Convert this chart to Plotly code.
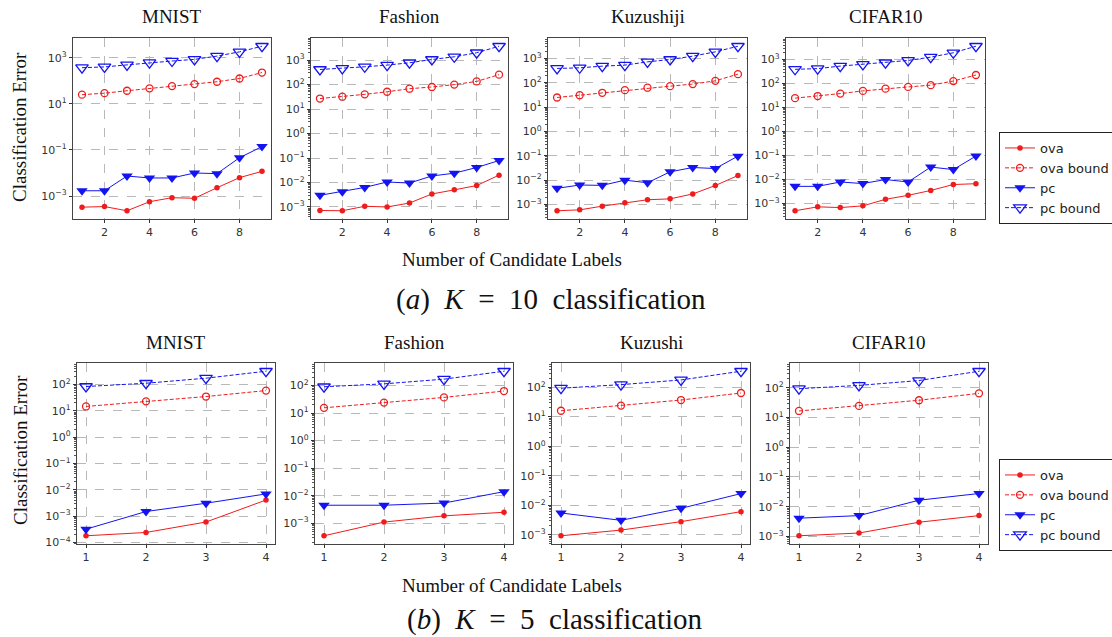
import numpy as np
import plotly.graph_objects as go

W, H = 1112, 637

# ---------------- data ----------------
k10_x = [1, 2, 3, 4, 5, 6, 7, 8, 9]
k5_x = [1, 2, 3, 4]

titles_k10 = ["MNIST", "Fashion", "Kuzushiji", "CIFAR10"]
titles_k5 = ["MNIST", "Fashion", "Kuzushi", "CIFAR10"]
series_names = ["ova", "ova bound", "pc", "pc bound"]

# K = 10
mnist10_ova = [3.3e-4, 3.5e-4, 2.3e-4, 5.7e-4, 8.5e-4, 8.0e-4, 2.3e-3, 6.3e-3, 1.18e-2]
mnist10_ova_bound = [25, 29, 37, 47, 59, 72, 91, 126, 228]
mnist10_pc = [1.7e-3, 1.7e-3, 7.4e-3, 6.1e-3, 6.1e-3, 1.0e-2, 9.4e-3, 4.6e-2, 0.14]
mnist10_pc_bound = [370, 400, 490, 610, 720, 850, 1180, 1800, 3160]

fashion10_ova = [7.2e-4, 7.0e-4, 1.07e-3, 1.0e-3, 1.45e-3, 3.4e-3, 5.0e-3, 7.5e-3, 2.0e-2]
fashion10_ova_bound = [27, 32, 40, 51, 68, 80, 100, 135, 255]
fashion10_pc = [3.0e-3, 4.2e-3, 6.3e-3, 1.05e-2, 9.5e-3, 1.85e-2, 2.4e-2, 4.1e-2, 7.9e-2]
fashion10_pc_bound = [415, 460, 535, 625, 780, 1060, 1370, 2000, 3700]

kuzushiji10_ova = [5.5e-4, 6.0e-4, 8.5e-4, 1.17e-3, 1.56e-3, 1.7e-3, 2.7e-3, 6.0e-3, 1.55e-2]
kuzushiji10_ova_bound = [25, 31, 39, 50, 63, 73, 89, 121, 228]
kuzushiji10_pc = [4.6e-3, 6.3e-3, 6.1e-3, 1.0e-2, 7.8e-3, 2.2e-2, 3.3e-2, 3.0e-2, 9.7e-2]
kuzushiji10_pc_bound = [390, 415, 485, 535, 730, 910, 1250, 1880, 3200]

cifar10_ova = [5.0e-4, 7.3e-4, 6.8e-4, 8.0e-4, 1.5e-3, 2.2e-3, 3.5e-3, 6.2e-3, 6.7e-3]
cifar10_ova_bound = [24.5, 30, 38, 49, 61, 72, 85, 126, 225]
cifar10_pc = [5.2e-3, 5.2e-3, 7.9e-3, 6.8e-3, 1.0e-2, 7.9e-3, 3.3e-2, 2.6e-2, 9.5e-2]
cifar10_pc_bound = [390, 415, 530, 620, 730, 910, 1250, 1900, 3560]

# K = 5
mnist5_ova = [1.8e-4, 2.4e-4, 6.0e-4, 4.1e-3]
mnist5_ova_bound = [14.7, 23, 35, 59]
mnist5_pc = [3.2e-4, 1.5e-3, 3.1e-3, 7.0e-3]
mnist5_pc_bound = [84, 112, 174, 320]

fashion5_ova = [3.5e-4, 1.1e-3, 1.85e-3, 2.5e-3]
fashion5_ova_bound = [15.5, 24, 37, 63]
fashion5_pc = [4.5e-3, 4.5e-3, 5.4e-3, 1.4e-2]
fashion5_pc_bound = [90, 115, 170, 330]

kuzushi5_ova = [9.3e-4, 1.45e-3, 2.8e-3, 6.1e-3]
kuzushi5_ova_bound = [16, 24, 37, 64]
kuzushi5_pc = [5.5e-3, 3.1e-3, 7.9e-3, 2.5e-2]
kuzushi5_pc_bound = [93, 123, 177, 350]

cifar5_ova = [1.05e-3, 1.3e-3, 3.0e-3, 5.0e-3]
cifar5_ova_bound = [16.6, 24.5, 38, 65]
cifar5_pc = [4.1e-3, 5.0e-3, 1.65e-2, 2.77e-2]
cifar5_pc_bound = [93, 120, 175, 360]

k10_panels = [
    [mnist10_ova, mnist10_ova_bound, mnist10_pc, mnist10_pc_bound],
    [fashion10_ova, fashion10_ova_bound, fashion10_pc, fashion10_pc_bound],
    [kuzushiji10_ova, kuzushiji10_ova_bound, kuzushiji10_pc, kuzushiji10_pc_bound],
    [cifar10_ova, cifar10_ova_bound, cifar10_pc, cifar10_pc_bound],
]
k5_panels = [
    [mnist5_ova, mnist5_ova_bound, mnist5_pc, mnist5_pc_bound],
    [fashion5_ova, fashion5_ova_bound, fashion5_pc, fashion5_pc_bound],
    [kuzushi5_ova, kuzushi5_ova_bound, kuzushi5_pc, kuzushi5_pc_bound],
    [cifar5_ova, cifar5_ova_bound, cifar5_pc, cifar5_pc_bound],
]

# ---------------- layout (pixels) ----------------
row1_x = [(73, 271), (311, 508), (548, 747), (786, 985)]
row1_y = (38, 219)
row2_x = [(77, 275), (315, 513), (552, 750), (790, 988)]
row2_y = (363, 544)

RED = "#f01c1c"
BLUE = "#1414f0"
styles = [
    dict(line=dict(color=RED, width=1), marker=dict(symbol="circle", size=5.5, color=RED)),
    dict(line=dict(color=RED, width=1, dash="4px,2px"),
         marker=dict(symbol="circle-open", size=7, color=RED, line=dict(width=1.3, color=RED))),
    dict(line=dict(color=BLUE, width=1), marker=dict(symbol="triangle-down", size=10, color=BLUE)),
    dict(line=dict(color=BLUE, width=1, dash="4px,2px"),
         marker=dict(symbol="triangle-down-open", size=11, color=BLUE, line=dict(width=1.3, color=BLUE))),
]


def px_x(p):
    return p / W


def px_y(p):
    return 1 - p / H


fig = go.Figure()
layout = dict()
annotations = []

SERIF = "Liberation Serif"
SANS = "DejaVu Sans"
TICKCOL = "#333333"


def sup(e):
    s = str(abs(e))
    return "10<sup>" + ("\u2212" if e < 0 else "") + s + "</sup>"


rows = [
    (k10_x, k10_panels, titles_k10, row1_x, row1_y, "legend", 2),
    (k5_x, k5_panels, titles_k5, row2_x, row2_y, "legend2", 1),
]

n = 0
for r, (xs, panels, titles, xboxes, ybox, legname, xdt) in enumerate(rows):
    for c in range(4):
        n += 1
        series = panels[c]
        allv = np.concatenate([np.asarray(s, float) for s in series])
        lo, hi = np.log10(allv.min()), np.log10(allv.max())
        span = hi - lo
        ylo, yhi = lo - 0.05 * span, hi + 0.05 * span
        xspan = xs[-1] - xs[0]
        xlo, xhi = xs[0] - 0.05 * xspan, xs[-1] + 0.05 * xspan

        step = 2 if (r == 0 and c == 0) else 1
        exps = [e for e in range(int(np.ceil(ylo)), int(np.floor(yhi)) + 1)]
        if step == 2:
            exps = [e for e in exps if e % 2 != 0]
        tickvals = [10.0 ** e for e in exps]
        ticktext = [sup(e) for e in exps]
        minor_vals = []
        if step == 1:
            for e in range(int(np.floor(ylo)), int(np.ceil(yhi)) + 1):
                for k in range(2, 10):
                    v = k * 10.0 ** e
                    if ylo <= np.log10(v) <= yhi:
                        minor_vals.append(v)

        xa = "xaxis" if n == 1 else f"xaxis{n}"
        ya = "yaxis" if n == 1 else f"yaxis{n}"
        xr = "x" if n == 1 else f"x{n}"
        yr = "y" if n == 1 else f"y{n}"

        layout[xa] = dict(
            domain=[px_x(xboxes[c][0]), px_x(xboxes[c][1])],
            anchor=yr, range=[xlo, xhi], tickmode="linear", tick0=0, dtick=xdt,
            showgrid=True, gridcolor="#b8b8b8", griddash="dash", gridwidth=0.8,
            showline=True, mirror=True, linecolor="#444444", linewidth=1.3,
            ticks="outside", ticklen=3, tickcolor="#333333",
            tickfont=dict(family=SANS, size=11, color=TICKCOL), zeroline=False,
        )
        yax = dict(
            domain=[px_y(ybox[1]), px_y(ybox[0])],
            anchor=xr, type="log", range=[ylo, yhi],
            tickmode="array", tickvals=tickvals, ticktext=ticktext,
            showgrid=True, gridcolor="#b8b8b8", griddash="dash", gridwidth=0.8,
            showline=True, mirror=True, linecolor="#444444", linewidth=1.3,
            ticks="outside", ticklen=3, tickcolor="#333333",
            tickfont=dict(family=SANS, size=11, color=TICKCOL), zeroline=False,
        )
        if minor_vals:
            yax["minor"] = dict(tickmode="array", tickvals=minor_vals, ticks="outside",
                                ticklen=2, tickcolor="#555555", showgrid=False)
        layout[ya] = yax

        for s_i, (vals, name) in enumerate(zip(series, series_names)):
            st = styles[s_i]
            fig.add_trace(go.Scatter(
                x=xs, y=vals, name=name, mode="lines+markers",
                line=st["line"], marker=st["marker"],
                xaxis=xr, yaxis=yr, legend=legname,
                showlegend=(c == 3),
            ))

        annotations.append(dict(
            text=titles[c], x=px_x((xboxes[c][0] + xboxes[c][1]) / 2),
            y=px_y(16 if r == 0 else 342), xref="paper", yref="paper",
            xanchor="center", yanchor="middle", showarrow=False,
            font=dict(family=SERIF, size=19, color="#111111"),
        ))

# y titles
for yc in (127, 450):
    annotations.append(dict(
        text="Classification Error", x=px_x(20), y=px_y(yc), xref="paper", yref="paper",
        xanchor="center", yanchor="middle", showarrow=False, textangle=-90,
        font=dict(family=SERIF, size=19, color="#111111"),
    ))
# x titles
for yc in (259, 585):
    annotations.append(dict(
        text="Number of Candidate Labels", x=px_x(512), y=px_y(yc), xref="paper", yref="paper",
        xanchor="center", yanchor="middle", showarrow=False,
        font=dict(family=SERIF, size=19, color="#111111"),
    ))
# captions
sp = "&nbsp;"
annotations.append(dict(
    text="(<i>a</i>)" + sp * 2 + "<i>K</i>" + sp * 2 + "=" + sp * 2 + "10" + sp * 2 + "classification",
    x=px_x(551), y=px_y(299), xref="paper", yref="paper", xanchor="center", yanchor="middle",
    showarrow=False, font=dict(family=SERIF, size=29, color="#111111"),
))
annotations.append(dict(
    text="(<i>b</i>)" + sp * 2 + "<i>K</i>" + sp * 2 + "=" + sp * 2 + "5" + sp * 2 + "classification",
    x=px_x(555), y=px_y(619), xref="paper", yref="paper", xanchor="center", yanchor="middle",
    showarrow=False, font=dict(family=SERIF, size=29, color="#111111"),
))

legend_style = dict(
    xanchor="left", yanchor="top", bgcolor="white", bordercolor="#222222", borderwidth=1,
    font=dict(family=SANS, size=13, color="#222222"), traceorder="normal",
)
layout["legend"] = dict(x=px_x(999), y=px_y(132), **legend_style)
layout["legend2"] = dict(x=px_x(999), y=px_y(459), **legend_style)

fig.update_layout(
    width=W, height=H,
    margin=dict(l=0, r=0, t=0, b=0, autoexpand=False),
    paper_bgcolor="white", plot_bgcolor="white",
    annotations=annotations,
    **layout,
)

fig.write_html(
    "out.html",
    config={"displayModeBar": False},
    post_script="document.body.style.margin='0';document.body.style.overflow='hidden';",
)
